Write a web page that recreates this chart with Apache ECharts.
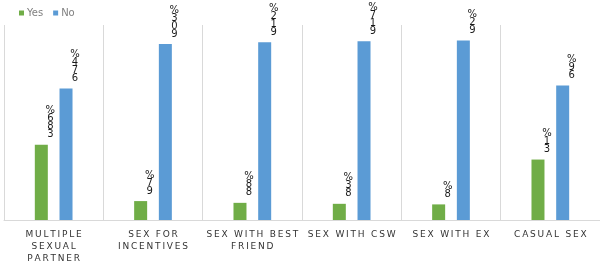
<!DOCTYPE html>
<html>
<head>
<meta charset="utf-8">
<script src="https://cdn.jsdelivr.net/npm/echarts@6/dist/echarts.min.js"></script>
<style>
  html, body { margin: 0; padding: 0; background: #fff; }
  #chart { width: 600px; height: 265px; }
</style>
</head>
<body>
<div id="chart"></div>
<script>
// categories and values
var categories = ['MULTIPLE\nSEXUAL\nPARTNER', 'SEX FOR\nINCENTIVES', 'SEX WITH BEST\nFRIEND', 'SEX WITH CSW', 'SEX WITH EX', 'CASUAL SEX'];
var yesValues = [38.6, 9.7, 8.8, 8.3, 8, 31];
var noValues = [67.4, 90.3, 91.2, 91.7, 92, 69];

// labels in the source come out as stacked characters, read bottom to top
function stacked(p) {
  var s = String(p.value).replace('.', '') + '%';
  return s.split('').reverse().join('\n');
}

// wide letter spacing on the category names, thin space between letters
function spaced(v) {
  return v.split('\n').map(function (line) {
    return line.split('').join('\u2009');
  }).join('\n');
}

var labelStyle = {
  show: true,
  position: 'top',
  offset: [9, -1],
  formatter: stacked,
  fontFamily: 'DejaVu Sans',
  fontSize: 10,
  lineHeight: 8,
  color: '#1a1a1a'
};

var myChart = echarts.init(document.getElementById('chart'));
var option = {
  animation: false,
  legend: {
    left: 14,
    top: 3,
    icon: 'rect',
    itemWidth: 5,
    itemHeight: 5,
    itemGap: 10,
    textStyle: { fontFamily: 'DejaVu Sans', fontSize: 10, color: '#7f7f7f', padding: [0, 0, 0, -2] },
    data: ['Yes', 'No']
  },
  grid: { left: 4, top: 25, width: 600, bottom: 43 },
  xAxis: {
    type: 'category',
    data: categories,
    axisLine: { lineStyle: { color: '#d9d9d9' } },
    axisTick: { show: false },
    splitLine: { show: true, interval: 0, lineStyle: { color: '#d9d9d9' } },
    axisLabel: {
      interval: 0,
      margin: 9,
      formatter: spaced,
      fontFamily: 'DejaVu Sans',
      fontSize: 9,
      lineHeight: 12,
      color: '#333333'
    }
  },
  yAxis: { type: 'value', min: 0, max: 100, show: false },
  series: [
    {
      name: 'Yes', type: 'bar', data: yesValues,
      barWidth: 13, barGap: '90%',
      itemStyle: { color: '#70ad47' },
      label: labelStyle
    },
    {
      name: 'No', type: 'bar', data: noValues,
      barWidth: 13,
      itemStyle: { color: '#5b9bd5' },
      label: labelStyle
    }
  ]
};
myChart.setOption(option);
</script>
</body>
</html>
